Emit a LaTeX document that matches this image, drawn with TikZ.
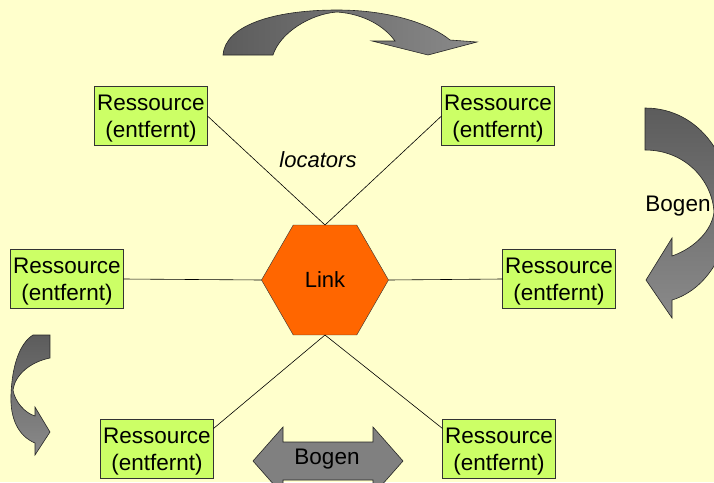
\documentclass[tikz,border=0pt]{standalone}
\usepackage{fontspec}
\setmainfont{Liberation Sans}
\usetikzlibrary{shapes.geometric,calc}
\definecolor{bg}{HTML}{FFFFCC}
\definecolor{boxgreen}{HTML}{CCFF66}
\definecolor{linkorange}{HTML}{FF6600}
\definecolor{arrdark}{HTML}{5C5C5C}
\definecolor{arrlight}{HTML}{8A8A8A}
\definecolor{arrmid}{HTML}{808080}
\begin{document}
\begin{tikzpicture}[x=1pt,y=-1pt,
  res/.style={draw=black!80, fill=boxgreen, minimum width=113pt, minimum height=59pt,
    inner sep=0pt, outer sep=0pt, align=center, text depth=0pt, font=\fontsize{22.5}{27}\selectfont},
  conn/.style={draw=black, line width=0.6pt},
  arr/.style={draw=black!85, line width=0.6pt},
  lbl/.style={font=\fontsize{22.5}{27}\selectfont}]
\fill[bg] (0,0) rectangle (714,482);
\useasboundingbox (0,0) rectangle (714,482);
\clip (0,0) rectangle (714,482);

% curved arrows
\path[arr, left color=arrdark, right color=arrlight]
  (223,55) .. controls (225,26) and (272,10) .. (337,10)
  .. controls (392,10) and (432,25) .. (450,40)
  -- (477,42) -- (428,55) -- (372,41) -- (395,41)
  .. controls (385,27) and (365,14) .. (337,12)
  .. controls (310,14) and (280,33) .. (273,55) -- cycle;

\path[arr, top color=arrdark, bottom color=arrlight]
  (645,108) .. controls (700,108) and (735,160) .. (730,215)
  .. controls (727,255) and (705,290) .. (672,300)
  -- (672,318) -- (646,280) -- (672,238) -- (672,256)
  .. controls (695,248) and (712,230) .. (714,212)
  .. controls (712,180) and (685,150) .. (645,150) -- cycle;

\path[arr, top color=arrdark, bottom color=arrlight]
  (33,335) -- (50,335) -- (50,358)
  .. controls (30,362) and (15,375) .. (13,390)
  .. controls (15,402) and (25,413) .. (35,416)
  -- (35,407) -- (50,432) -- (35,455) -- (35,443)
  .. controls (18,436) and (10,418) .. (11,395)
  .. controls (12,365) and (20,343) .. (33,335) -- cycle;

\path[arr, fill=arrmid]
  (253,461) -- (283,427) -- (283,442) -- (373,442) -- (373,427) -- (403,461)
  -- (373,495) -- (373,480) -- (283,480) -- (283,495) -- cycle;

\node[lbl] (bogenR) at (678,206) {Bogen};
\node[lbl] (bogenB) at (327,459) {Bogen};

% nodes
\node[res] (tl) at (151,116) {Ressource\\(entfernt)};
\node[res] (tr) at (498,116) {Ressource\\(entfernt)};
\node[res] (ml) at (67,279) {Ressource\\(entfernt)};
\node[res] (mr) at (559,279) {Ressource\\(entfernt)};
\node[res] (bl) at (157,449) {Ressource\\(entfernt)};
\node[res] (br) at (499,449) {Ressource\\(entfernt)};
\node[regular polygon, regular polygon sides=6, minimum size=127pt, fill=linkorange,
  draw=black!80, inner sep=0pt, outer sep=0pt, font=\fontsize{22}{26}\selectfont] (hex) at (325,280) {Link};
\node[font=\itshape\fontsize{22}{26}\selectfont] (loc) at (318,160) {locators};

% connectors
\draw[conn] (hex.north) -- (tl.east);
\draw[conn] (hex.north) -- (tr.west);
\draw[conn] (ml.east) -- (hex.west);
\draw[conn] (hex.east) -- (mr.west);
\draw[conn] (hex.south) -- ([yshift=-9pt]bl.north east);
\draw[conn] (hex.south) -- ([yshift=-9pt]br.north west);
\end{tikzpicture}
\end{document}
